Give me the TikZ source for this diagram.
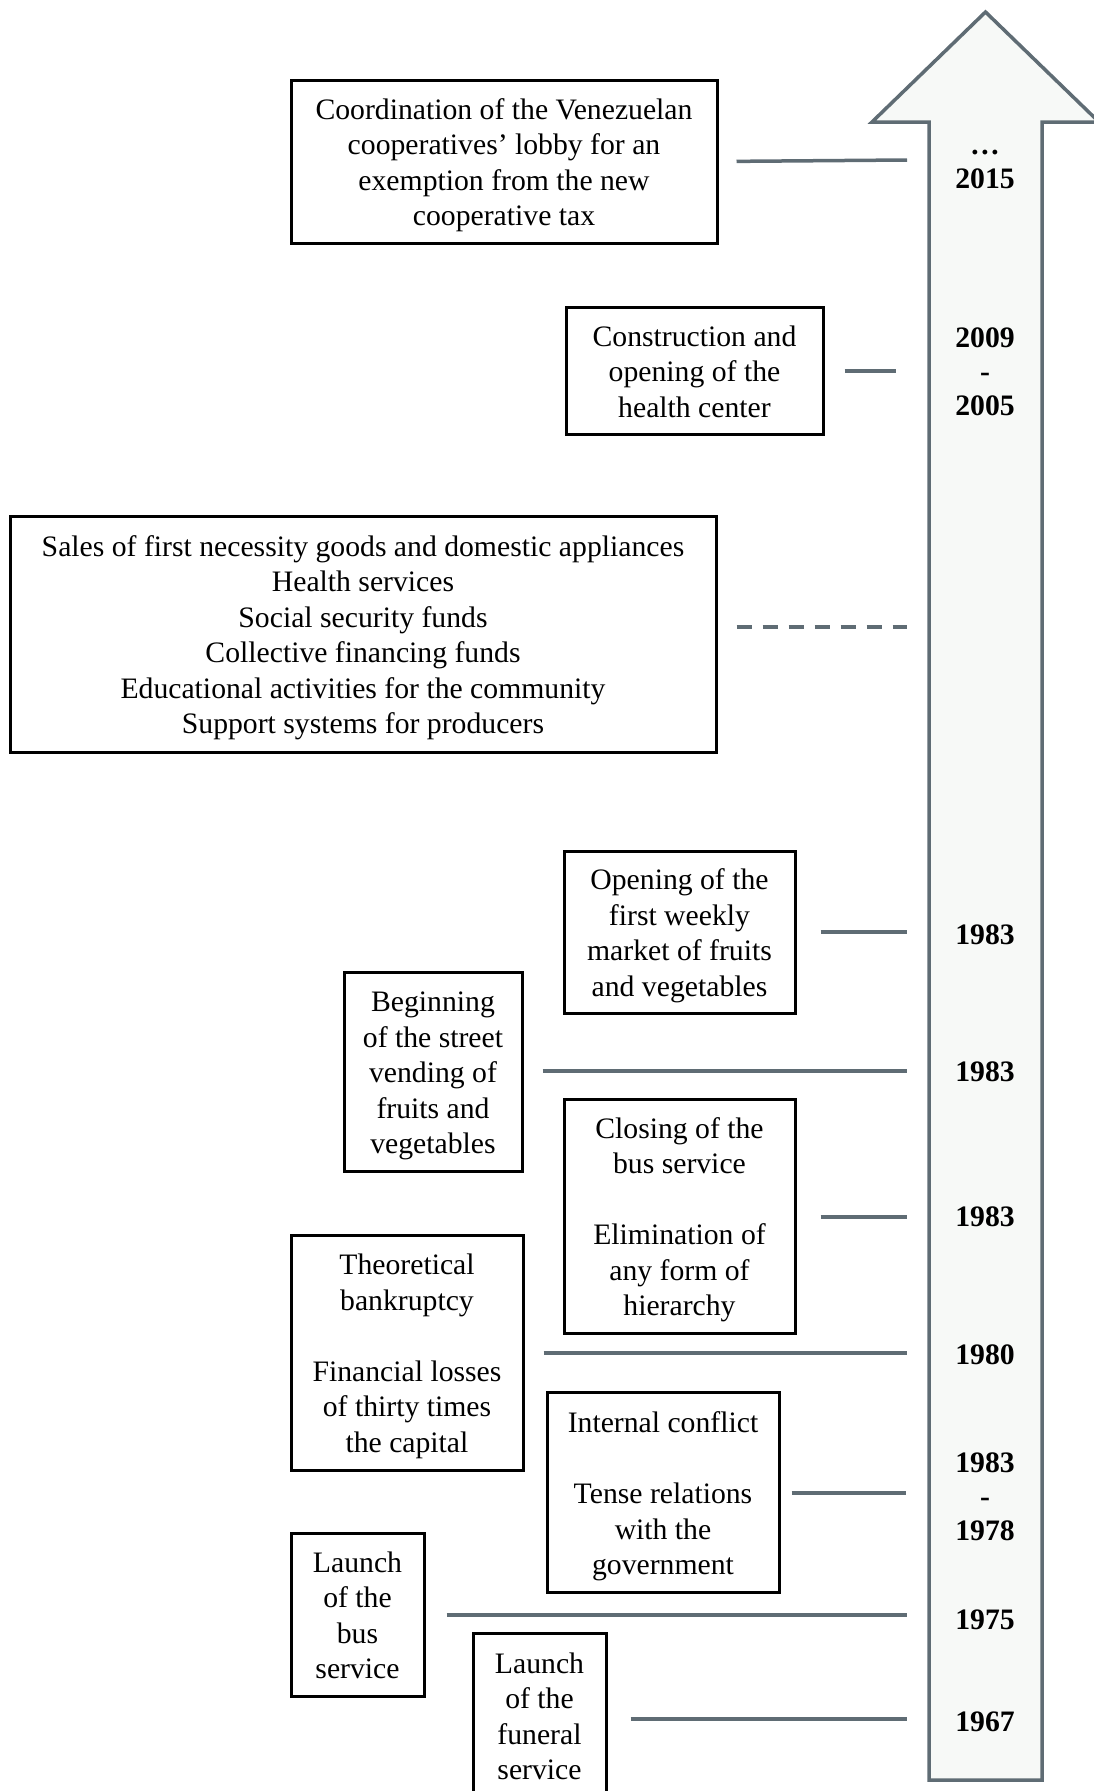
\documentclass[tikz,border=0pt]{standalone}
\usepackage{fontspec}
\setmainfont{Liberation Serif}
\definecolor{connc}{HTML}{5F6C74}
\definecolor{arrfill}{HTML}{F7F9F7}
\newcommand{\tstrut}{\rule{0pt}{30pt}}
\begin{document}
\begin{tikzpicture}[x=1pt,y=-1pt,
  box/.style={draw=black,line width=3pt,inner sep=0pt,align=center,
    font=\fontsize{29.7}{35.5}\selectfont,
    execute at end node={\rule[-8pt]{0pt}{0pt}}},
  yr/.style={align=center,inner sep=0pt,font=\fontsize{29.7}{34}\selectfont\bfseries},
  conn/.style={draw=connc,line width=3.5pt},
  timearrow/.style={draw=connc,fill=arrfill,line width=3.5pt,line join=miter}]
\useasboundingbox (0,0) rectangle (1093,1791);
% timeline arrow
\draw[timearrow] (985.5,12) -- (1099,122) -- (1042,122) -- (1042,1780) -- (929,1780) -- (929,122) -- (872,122) -- cycle;
% boxes
\node[box,minimum width=426pt,minimum height=163pt] (b1) at (504,161.5) {\tstrut Coordination of the Venezuelan\\cooperatives’ lobby for an\\exemption from the new\\cooperative tax};
\node[box,minimum width=257pt,minimum height=127pt] (b2) at (694.5,370.5) {\tstrut Construction and\\opening of the\\health center};
\node[box,minimum width=706pt,minimum height=236pt] (b3) at (363,634) {\tstrut Sales of first necessity goods and domestic appliances\\Health services\\Social security funds\\Collective financing funds\\Educational activities for the community\\Support systems for producers};
\node[box,minimum width=231pt,minimum height=162pt] (b4) at (679.5,932) {\tstrut Opening of the\\first weekly\\market of fruits\\and vegetables};
\node[box,minimum width=178pt,minimum height=199pt] (b5) at (433,1071.5) {\tstrut Beginning\\of the street\\vending of\\fruits and\\vegetables};
\node[box,minimum width=231pt,minimum height=234pt] (b6) at (679.5,1216) {\tstrut Closing of the\\bus service\\[35.5pt]Elimination of\\any form of\\hierarchy};
\node[box,minimum width=232pt,minimum height=235pt] (b7) at (407,1352.5) {\tstrut Theoretical\\bankruptcy\\[35.5pt]Financial losses\\of thirty times\\the capital};
\node[box,minimum width=232pt,minimum height=200pt] (b8) at (663,1492.5) {\tstrut Internal conflict\\[35.5pt]Tense relations\\with the\\government};
\node[box,minimum width=133pt,minimum height=163pt] (b9) at (357.5,1614.5) {\tstrut Launch\\of the\\bus\\service};
\node[box,minimum width=133pt,minimum height=165pt] (b10) at (539.5,1715.5) {\tstrut Launch\\of the\\funeral\\service};
% years
\node[yr] (y1) at (985,169.5) {…\\2015};
\node[yr] (y2) at (985,372) {2009\\-\\2005};
\node[yr] (y4) at (985,935) {1983};
\node[yr] (y5) at (985,1072) {1983};
\node[yr] (y6) at (985,1217) {1983};
\node[yr] (y7) at (985,1355) {1980};
\node[yr] (y8) at (985,1497) {1983\\-\\1978};
\node[yr] (y9) at (985,1620) {1975};
\node[yr] (y10) at (985,1722) {1967};
% connector ends
\coordinate (e1) at (907,160);
\coordinate (e2) at (896,371);
\coordinate (e3) at (907,627);
\coordinate (e4) at (907,932);
\coordinate (e5) at (907,1071);
\coordinate (e6) at (907,1217);
\coordinate (e7) at (907,1353);
\coordinate (e8) at (906,1493);
\coordinate (e9) at (907,1615);
\coordinate (e10) at (907,1719);
% connectors
\draw[conn,shorten <=18pt] (b1.east) -- (e1);
\draw[conn,shorten <=20pt] (b2.east |- e2) -- (e2);
\draw[conn,dash pattern=on 15pt off 11pt,shorten <=19pt] (b3.east |- e3) -- (e3);
\draw[conn,shorten <=24pt] (b4.east |- e4) -- (e4);
\draw[conn,shorten <=19pt] (b5.east |- e5) -- (e5);
\draw[conn,shorten <=24pt] (b6.east |- e6) -- (e6);
\draw[conn,shorten <=19pt] (b7.east |- e7) -- (e7);
\draw[conn,shorten <=11pt] (b8.east |- e8) -- (e8);
\draw[conn,shorten <=21pt] (b9.east |- e9) -- (e9);
\draw[conn,shorten <=23pt] (b10.east |- e10) -- (e10);
\end{tikzpicture}
\end{document}
